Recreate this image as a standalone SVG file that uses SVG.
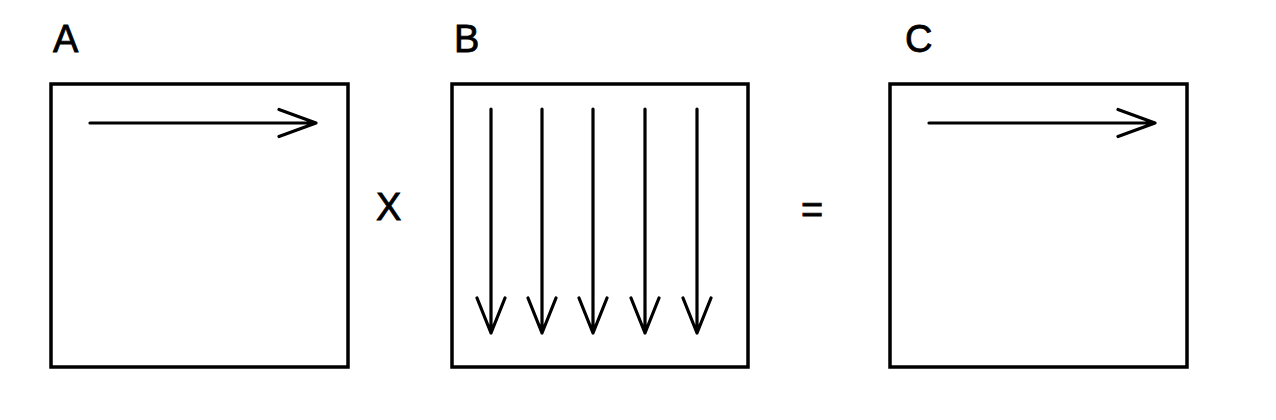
<svg xmlns="http://www.w3.org/2000/svg" width="1276" height="420" viewBox="0 0 1276 420">
<style>
.box{fill:#fff;stroke:#000;stroke-width:3.5}
.arr{fill:none;stroke:#000;stroke-width:3.2;stroke-linecap:round;stroke-linejoin:round}
.lbl{font-family:"Liberation Sans",Arial,sans-serif;font-size:38px;fill:#000;stroke:#000;stroke-width:0.8}
</style>
<rect width="1276" height="420" fill="#fff"/>
<g id="nodeA">
<text class="lbl" x="53" y="52">A</text>
<rect class="box" x="51" y="84" width="297" height="283"/>
</g>
<g id="nodeB">
<text class="lbl" x="454" y="52">B</text>
<rect class="box" x="452" y="84" width="296" height="283"/>
</g>
<g id="times">
<text class="lbl" x="376" y="220">X</text>
</g>
<g id="equals">
<text class="lbl" x="801" y="223">=</text>
</g>
<g id="nodeC">
<text class="lbl" x="905" y="52">C</text>
<rect class="box" x="890" y="84" width="297" height="283"/>
</g>
<g id="connectors">
<path class="arr" d="M90 123H316M279 109.5L316 123L279 136.5"/>
<path class="arr" d="M929 123H1155M1118 109.5L1155 123L1118 136.5"/>
<path class="arr" d="M491 109V333M477 298L491 333L505 298"/>
<path class="arr" d="M542 109V333M528 298L542 333L556 298"/>
<path class="arr" d="M593 109V333M579 298L593 333L607 298"/>
<path class="arr" d="M645 109V333M631 298L645 333L659 298"/>
<path class="arr" d="M697 109V333M683 298L697 333L711 298"/>
</g>
</svg>
